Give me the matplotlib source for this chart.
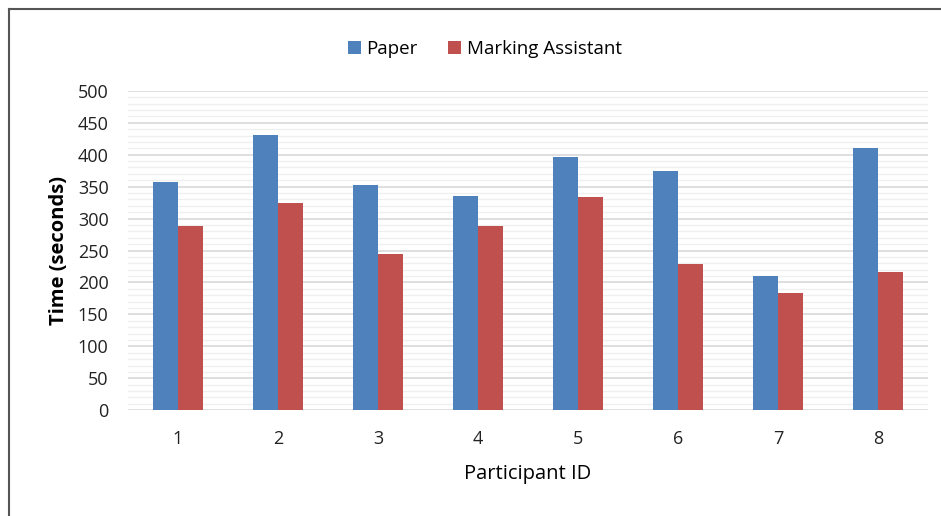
import matplotlib.pyplot as plt
import numpy as np
from matplotlib.lines import Line2D

participants = ['1', '2', '3', '4', '5', '6', '7', '8']
paper = [357, 431, 353, 335, 397, 375, 210, 411]
assistant = [288, 324, 245, 288, 334, 229, 183, 216]

plt.rcParams['font.family'] = ['Open Sans', 'DejaVu Sans']

fig = plt.figure(figsize=(9.41, 5.16), dpi=100)
ax = fig.add_axes([0.136, 0.205, 0.850, 0.619])

x = np.arange(len(participants))
w = 0.25
ax.bar(x - w / 2, paper, w, color='#4F81BD', label='Paper', zorder=3)
ax.bar(x + w / 2, assistant, w, color='#C0504D', label='Marking Assistant', zorder=3)

ax.set_xlim(-0.5, len(participants) - 0.5)
ax.set_ylim(0, 500)
ax.set_yticks(np.arange(0, 501, 50))
ax.set_yticks(np.arange(0, 501, 10), minor=True)
ax.grid(axis='y', which='major', color='#d9d9d9', linewidth=1.2, zorder=0)
ax.grid(axis='y', which='minor', color='#efefef', linewidth=0.9, zorder=0)
ax.set_xticks(x)
ax.set_xticklabels(participants)
ax.tick_params(axis='both', which='both', length=0, labelsize=13, colors='#222222')
ax.tick_params(axis='x', pad=14)
ax.tick_params(axis='y', pad=14)
for s in ax.spines.values():
    s.set_visible(False)

ax.set_ylabel('Time (seconds)', fontsize=14.5, fontweight='bold', labelpad=6)
ax.set_xlabel('Participant ID', fontsize=14.5, labelpad=12)

fig.legend(loc='upper center', bbox_to_anchor=(0.515, 0.955), ncol=2, frameon=False,
           fontsize=13.5, handlelength=0.7, handleheight=0.7, handletextpad=0.3,
           columnspacing=1.6)

# frame around the chart (only top and left edges fall inside the image)
fig.add_artist(Line2D([9 / 941, 1.0], [1 - 9 / 516, 1 - 9 / 516], transform=fig.transFigure,
                      color='#555555', linewidth=1.5))
fig.add_artist(Line2D([9 / 941, 9 / 941], [0.0, 1 - 9 / 516], transform=fig.transFigure,
                      color='#555555', linewidth=1.5))

fig.savefig('out.png', dpi=100)
